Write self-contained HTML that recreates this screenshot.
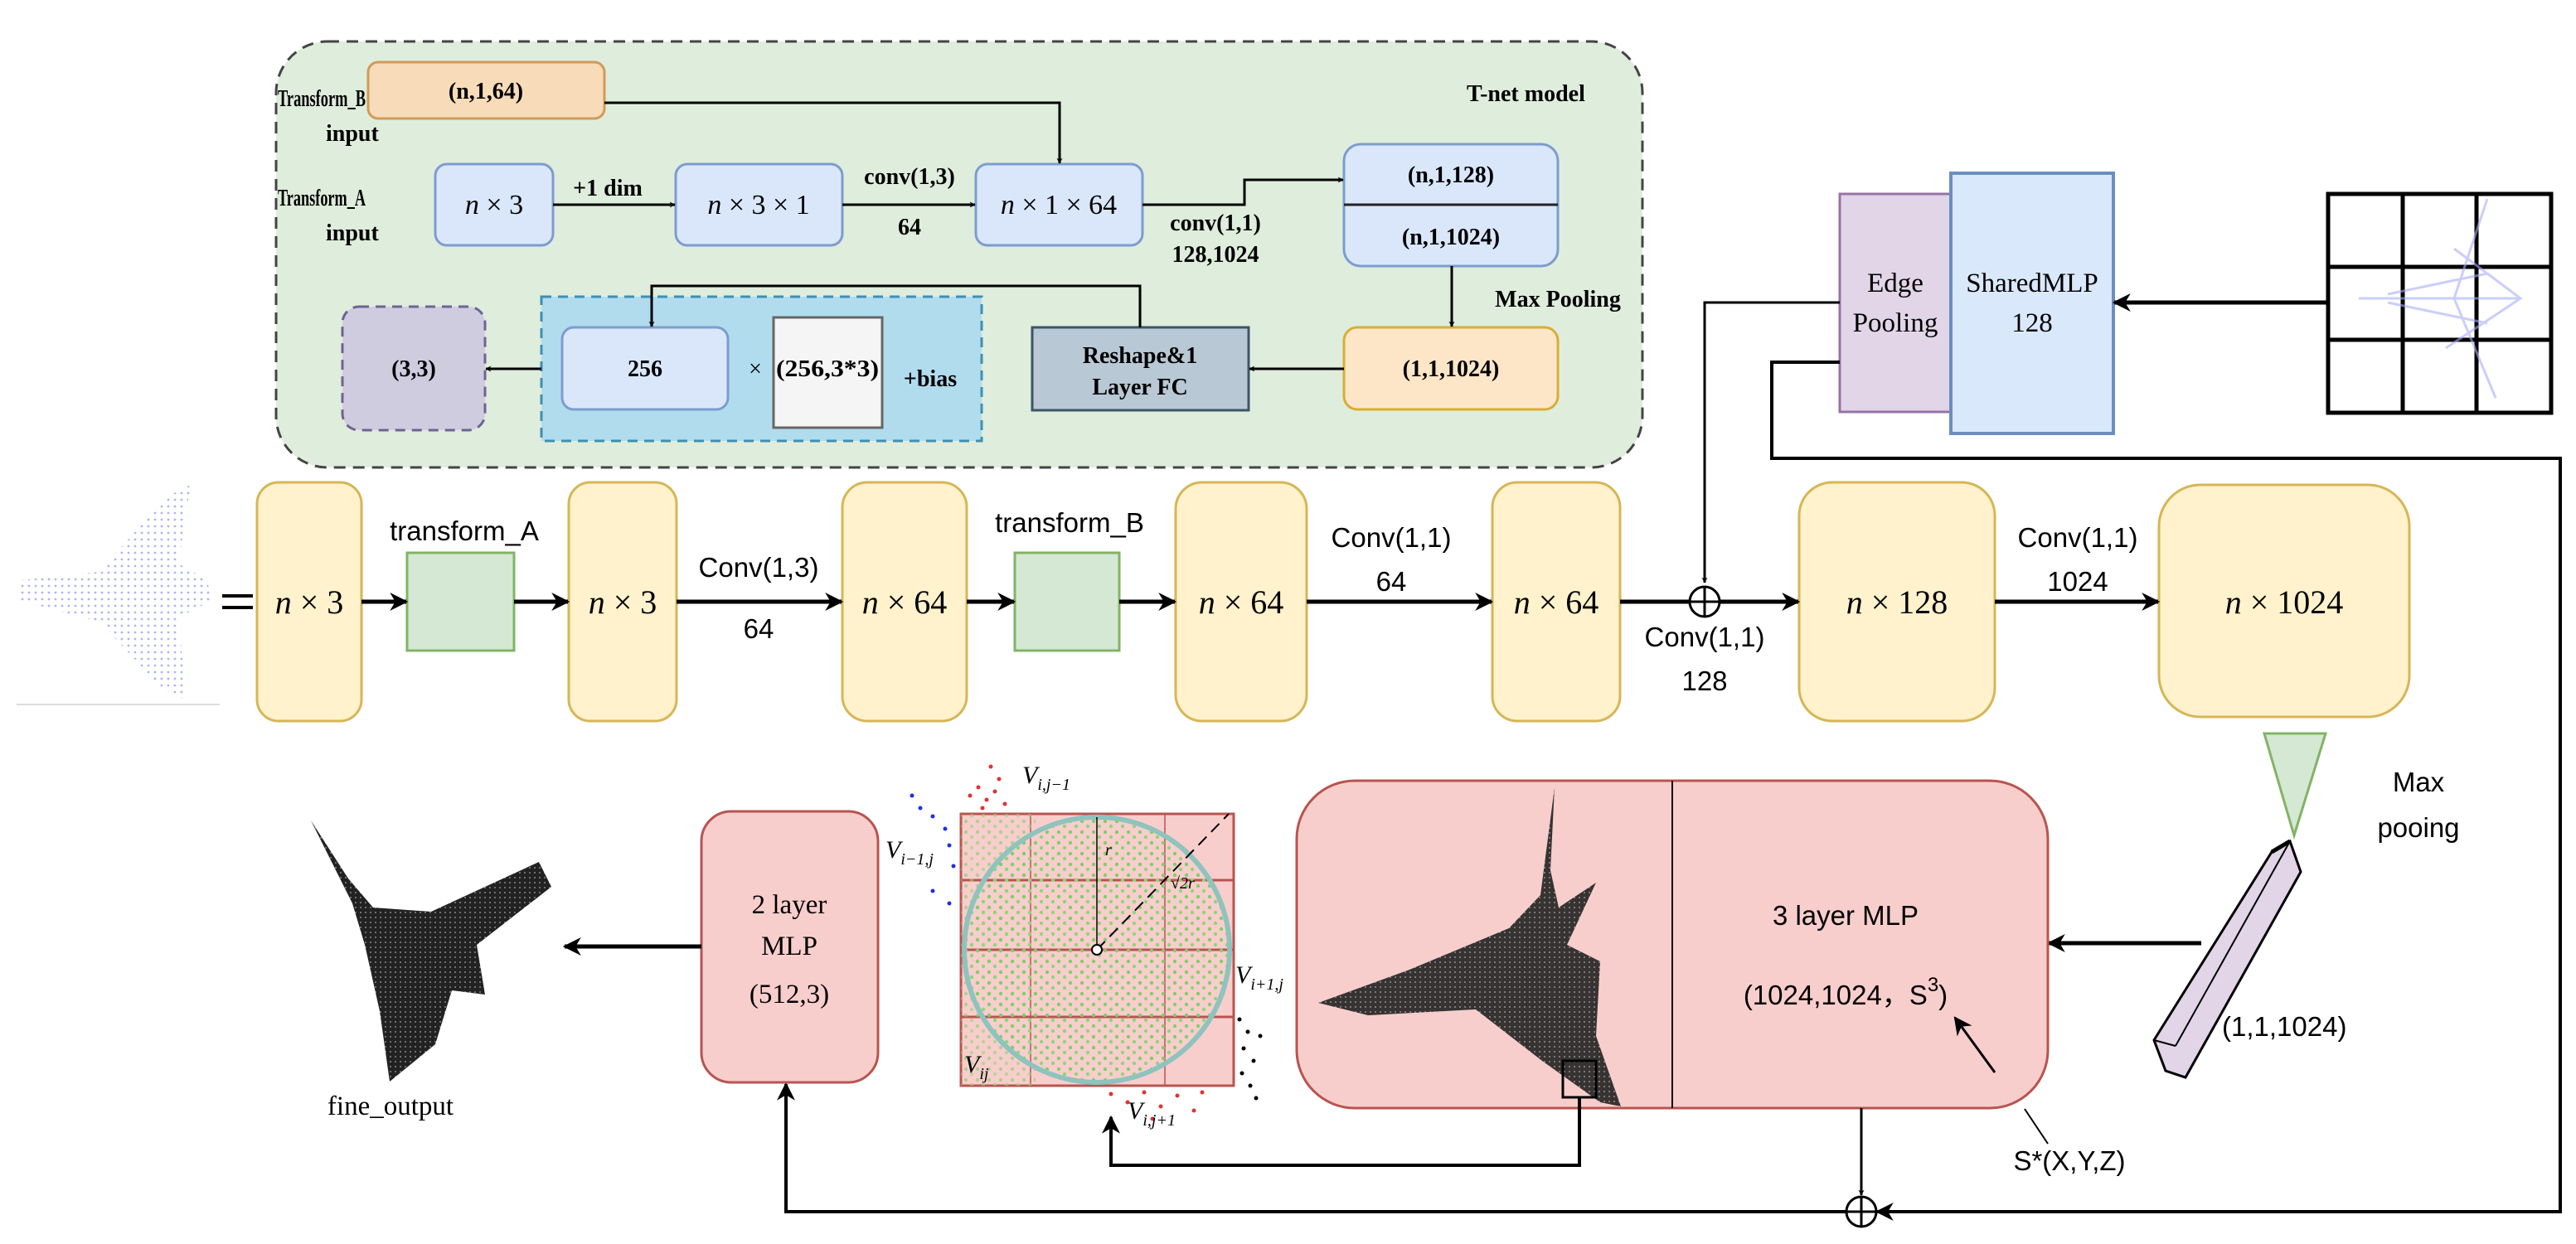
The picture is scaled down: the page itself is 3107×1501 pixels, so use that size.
<!DOCTYPE html>
<html><head><meta charset="utf-8"><style>
html,body{margin:0;padding:0;background:#fff;}
svg{display:block;}
.tn{font-family:"Liberation Serif",serif;font-weight:bold;font-size:28px;fill:#000;}
.mt{font-family:"Liberation Serif",serif;font-size:40px;fill:#000;}
.sl{font-family:"Liberation Sans",sans-serif;font-size:33px;fill:#000;}
.sr{font-family:"Liberation Serif",serif;font-size:33px;fill:#000;}
</style></head><body>
<svg width="3107" height="1501" viewBox="0 0 3107 1501" xmlns="http://www.w3.org/2000/svg">
<defs>
<marker id="a" viewBox="0 0 10 10" refX="9" refY="5" markerWidth="7" markerHeight="7" orient="auto-start-reverse" markerUnits="userSpaceOnUse"><path d="M0,0 L10,5 L0,10 L3,5 z" fill="#000"/></marker>
<marker id="b" viewBox="0 0 10 10" refX="9" refY="5" markerWidth="22" markerHeight="22" orient="auto-start-reverse" markerUnits="userSpaceOnUse"><path d="M0,0 L10,5 L0,10 L3,5 z" fill="#000"/></marker>
<pattern id="gd" width="14" height="13" patternUnits="userSpaceOnUse"><circle cx="3" cy="3" r="2.2" fill="#7fcf6a"/><circle cx="10" cy="9" r="2.2" fill="#8fd67a"/></pattern>
<pattern id="kd" width="6" height="6" patternUnits="userSpaceOnUse"><rect width="6" height="6" fill="#222"/><circle cx="3" cy="3" r="1" fill="#888"/></pattern>
<pattern id="bd" width="8" height="8" patternUnits="userSpaceOnUse"><circle cx="3" cy="3" r="1.4" fill="#9aa0f5"/></pattern>
<clipPath id="cc"><ellipse cx="1323" cy="1146" rx="160" ry="160"/></clipPath>
</defs>

<!-- T-net container -->
<rect x="333" y="50" width="1648" height="514" rx="62" fill="#dfeddc" stroke="#444" stroke-width="3" stroke-dasharray="14,9"/>
<text class="tn" x="1769" y="122" style="font-size:28px">T-net model</text>
<text class="tn" x="335" y="128" textLength="106" lengthAdjust="spacingAndGlyphs">Transform_B</text><text class="tn" x="393" y="170">input</text>
<text class="tn" x="335" y="248" textLength="106" lengthAdjust="spacingAndGlyphs">Transform_A</text><text class="tn" x="393" y="290">input</text>
<rect x="444" y="75" width="285" height="68" rx="12" fill="#f8dbb8" stroke="#d29a58" stroke-width="3"/>
<text class="tn" x="586" y="119" text-anchor="middle">(n,1,64)</text>
<rect x="525" y="198" width="142" height="98" rx="14" fill="#dae7fb" stroke="#7d9ccf" stroke-width="3"/>
<text class="tn" x="596" y="258" text-anchor="middle" style="font-weight:normal;font-size:34px"><tspan font-style="italic">n</tspan> × 3</text>
<rect x="815" y="198" width="201" height="98" rx="14" fill="#dae7fb" stroke="#7d9ccf" stroke-width="3"/>
<text class="tn" x="915" y="258" text-anchor="middle" style="font-weight:normal;font-size:34px"><tspan font-style="italic">n</tspan> × 3 × 1</text>
<rect x="1177" y="198" width="201" height="98" rx="14" fill="#dae7fb" stroke="#7d9ccf" stroke-width="3"/>
<text class="tn" x="1277" y="258" text-anchor="middle" style="font-weight:normal;font-size:34px"><tspan font-style="italic">n</tspan> × 1 × 64</text>
<rect x="1621" y="174" width="258" height="147" rx="20" fill="#dae7fb" stroke="#7d9ccf" stroke-width="3"/>
<line x1="1621" y1="247" x2="1879" y2="247" stroke="#222" stroke-width="3"/>
<text class="tn" x="1750" y="220" text-anchor="middle">(n,1,128)</text>
<text class="tn" x="1750" y="295" text-anchor="middle">(n,1,1024)</text>
<rect x="1621" y="395" width="258" height="99" rx="16" fill="#fde6c8" stroke="#d9ad35" stroke-width="3"/>
<text class="tn" x="1750" y="454" text-anchor="middle">(1,1,1024)</text>
<rect x="1245" y="395" width="261" height="100" fill="#b9c8d5" stroke="#3d5568" stroke-width="3"/>
<text class="tn" x="1375" y="438" text-anchor="middle">Reshape&amp;1</text>
<text class="tn" x="1375" y="476" text-anchor="middle">Layer FC</text>
<rect x="653" y="358" width="531" height="174" fill="#b1dcee" stroke="#3f8fb3" stroke-width="3" stroke-dasharray="12,8"/>
<rect x="678" y="395" width="200" height="99" rx="14" fill="#dae7fb" stroke="#7d9ccf" stroke-width="3"/>
<text class="tn" x="778" y="454" text-anchor="middle">256</text>
<text class="tn" x="911" y="454" text-anchor="middle" style="font-weight:normal">×</text>
<rect x="933" y="383" width="131" height="133" fill="#f5f5f5" stroke="#666" stroke-width="3"/>
<text class="tn" x="998" y="454" text-anchor="middle" textLength="124" lengthAdjust="spacingAndGlyphs">(256,3*3)</text>
<text class="tn" x="1122" y="466" text-anchor="middle">+bias</text>
<rect x="413" y="370" width="172" height="149" rx="20" fill="#d0cce0" stroke="#6f6394" stroke-width="3" stroke-dasharray="12,8"/>
<text class="tn" x="499" y="454" text-anchor="middle">(3,3)</text>
<!-- tnet arrows -->
<g stroke="#000" stroke-width="3" fill="none" marker-end="url(#a)">
<polyline points="729,124 1278,124 1278,197"/>
<line x1="667" y1="247" x2="814" y2="247"/>
<line x1="1016" y1="247" x2="1176" y2="247"/>
<polyline points="1378,247 1501,247 1501,217 1620,217"/>
<line x1="1751" y1="321" x2="1751" y2="394"/>
<line x1="1621" y1="445" x2="1507" y2="445"/>
<polyline points="1375,395 1375,345 786,345 786,394"/>
<line x1="653" y1="445" x2="586" y2="445"/>
</g>
<text class="tn" x="733" y="236" text-anchor="middle">+1 dim</text>
<text class="tn" x="1097" y="222" text-anchor="middle">conv(1,3)</text>
<text class="tn" x="1097" y="283" text-anchor="middle">64</text>
<text class="tn" x="1466" y="278" text-anchor="middle">conv(1,1)</text>
<text class="tn" x="1466" y="316" text-anchor="middle">128,1024</text>
<text class="tn" x="1879" y="370" text-anchor="middle">Max Pooling</text>

<!-- top right -->
<rect x="2219" y="234" width="134" height="263" fill="#e1d5e7" stroke="#9673a6" stroke-width="3"/>
<rect x="2353" y="209" width="196" height="314" fill="#dae8fc" stroke="#6c8ebf" stroke-width="4"/>
<text class="sr" x="2286" y="352" text-anchor="middle">Edge</text>
<text class="sr" x="2286" y="400" text-anchor="middle">Pooling</text>
<text class="sr" x="2451" y="352" text-anchor="middle">SharedMLP</text>
<text class="sr" x="2451" y="400" text-anchor="middle">128</text>
<g stroke="#000" stroke-width="5" fill="none">
<rect x="2808" y="234" width="269" height="264"/>
<line x1="2808" y1="322" x2="3077" y2="322"/><line x1="2808" y1="410" x2="3077" y2="410"/>
<line x1="2898" y1="234" x2="2898" y2="498"/><line x1="2987" y1="234" x2="2987" y2="498"/>
</g>
<g stroke="#a8aef8" stroke-width="3" fill="none" opacity="0.6">
<path d="M2845,360 L3040,360 M2960,300 L3040,360 L2950,420 M2880,355 L3000,330 M2880,365 L3000,390 M3000,240 L2960,360 L3010,480"/>
</g>
<line x1="2808" y1="365" x2="2550" y2="365" stroke="#000" stroke-width="5" marker-end="url(#b)"/>
<polyline points="2219,365 2056,365 2056,703" stroke="#000" stroke-width="3" fill="none" marker-end="url(#a)"/>
<polyline points="2219,437 2137,437 2137,553 3088,553 3088,1462 2264,1462" stroke="#000" stroke-width="4" fill="none" marker-end="url(#b)"/>

<!-- input plane -->
<g opacity="0.8">
<path d="M25,700 L120,690 L200,600 L230,585 L215,680 L250,700 L255,725 L215,745 L225,845 L195,830 L120,750 L25,725 Z" fill="url(#bd)"/>
</g>
<line x1="20" y1="850" x2="265" y2="850" stroke="#ddd" stroke-width="2"/>
<line x1="268" y1="719" x2="305" y2="719" stroke="#000" stroke-width="4"/>
<line x1="268" y1="733" x2="305" y2="733" stroke="#000" stroke-width="4"/>

<!-- main row -->
<g fill="#fff2cc" stroke="#d6b656" stroke-width="3">
<rect x="310" y="582" width="126" height="288" rx="26"/>
<rect x="686" y="582" width="130" height="288" rx="26"/>
<rect x="1016" y="582" width="150" height="288" rx="30"/>
<rect x="1418" y="582" width="158" height="288" rx="32"/>
<rect x="1800" y="582" width="154" height="288" rx="30"/>
<rect x="2170" y="582" width="236" height="288" rx="40"/>
<rect x="2604" y="585" width="302" height="280" rx="50"/>
</g>
<g fill="#d5e8d4" stroke="#82b366" stroke-width="3">
<rect x="491" y="667" width="129" height="118"/>
<rect x="1224" y="667" width="126" height="118"/>
</g>
<g class="mt" text-anchor="middle">
<text class="mt" x="373" y="740"><tspan font-style="italic">n</tspan> × 3</text>
<text class="mt" x="751" y="740"><tspan font-style="italic">n</tspan> × 3</text>
<text class="mt" x="1091" y="740"><tspan font-style="italic">n</tspan> × 64</text>
<text class="mt" x="1497" y="740"><tspan font-style="italic">n</tspan> × 64</text>
<text class="mt" x="1877" y="740"><tspan font-style="italic">n</tspan> × 64</text>
<text class="mt" x="2288" y="740"><tspan font-style="italic">n</tspan> × 128</text>
<text class="mt" x="2755" y="740"><tspan font-style="italic">n</tspan> × 1024</text>
</g>
<g stroke="#000" stroke-width="5" marker-end="url(#b)">
<line x1="436" y1="726" x2="490" y2="726"/>
<line x1="620" y1="726" x2="685" y2="726"/>
<line x1="816" y1="726" x2="1015" y2="726"/>
<line x1="1166" y1="726" x2="1223" y2="726"/>
<line x1="1350" y1="726" x2="1417" y2="726"/>
<line x1="1576" y1="726" x2="1799" y2="726"/>
<line x1="2074" y1="726" x2="2169" y2="726"/>
<line x1="2406" y1="726" x2="2603" y2="726"/>
</g>
<line x1="1954" y1="726" x2="2038" y2="726" stroke="#000" stroke-width="5"/>
<circle cx="2056" cy="726" r="18" fill="#fff" stroke="#000" stroke-width="3"/>
<line x1="2038" y1="726" x2="2074" y2="726" stroke="#000" stroke-width="3"/>
<line x1="2056" y1="708" x2="2056" y2="744" stroke="#000" stroke-width="3"/>
<text class="sl" x="560" y="652" text-anchor="middle">transform_A</text>
<text class="sl" x="915" y="696" text-anchor="middle">Conv(1,3)</text>
<text class="sl" x="915" y="770" text-anchor="middle">64</text>
<text class="sl" x="1290" y="642" text-anchor="middle">transform_B</text>
<text class="sl" x="1678" y="660" text-anchor="middle">Conv(1,1)</text>
<text class="sl" x="1678" y="713" text-anchor="middle">64</text>
<text class="sl" x="2056" y="780" text-anchor="middle">Conv(1,1)</text>
<text class="sl" x="2056" y="833" text-anchor="middle">128</text>
<text class="sl" x="2506" y="660" text-anchor="middle">Conv(1,1)</text>
<text class="sl" x="2506" y="713" text-anchor="middle">1024</text>

<!-- max pooling -->
<polygon points="2731,885 2805,885 2767,1008" fill="#d5e8d4" stroke="#82b366" stroke-width="3"/>
<text class="sl" x="2917" y="955" text-anchor="middle">Max</text>
<text class="sl" x="2917" y="1010" text-anchor="middle">pooing</text>
<polygon points="2740,1028 2762,1015 2775,1052 2636,1300 2612,1292 2598,1255" fill="#e1d5e7" stroke="#000" stroke-width="3"/>
<line x1="2762" y1="1015" x2="2624" y2="1262" stroke="#000" stroke-width="2"/>
<line x1="2598" y1="1255" x2="2624" y2="1262" stroke="#000" stroke-width="2"/>
<line x1="2740" y1="1028" x2="2762" y2="1015" stroke="#000" stroke-width="5"/>
<text class="sl" x="2680" y="1250">(1,1,1024)</text>
<line x1="2655" y1="1138" x2="2471" y2="1138" stroke="#000" stroke-width="5" marker-end="url(#b)"/>

<!-- 3 layer MLP -->
<rect x="1564" y="942" width="906" height="395" rx="70" fill="#f8cecc" stroke="#b85450" stroke-width="3"/>
<line x1="2017" y1="942" x2="2017" y2="1337" stroke="#000" stroke-width="2"/>
<path d="M1875,950 L1858,1080 L1820,1120 L1700,1170 L1590,1210 L1650,1225 L1780,1218 L1860,1280 L1930,1330 L1955,1335 L1925,1250 L1930,1160 L1890,1140 L1925,1065 L1880,1095 L1870,1050 Z" fill="url(#kd)" opacity="0.9"/>
<rect x="1885" y="1280" width="40" height="44" fill="none" stroke="#000" stroke-width="3"/>
<text class="sl" x="2226" y="1116" text-anchor="middle">3 layer MLP</text>
<text class="sl" x="2226" y="1212" text-anchor="middle">(1024,1024，S<tspan dy="-16" font-size="24">3</tspan><tspan dy="16">)</tspan></text>
<line x1="2406" y1="1294" x2="2358" y2="1228" stroke="#000" stroke-width="3" marker-end="url(#b)"/>
<line x1="2442" y1="1338" x2="2470" y2="1380" stroke="#000" stroke-width="2"/>
<text class="sl" x="2496" y="1412" text-anchor="middle">S*(X,Y,Z)</text>
<line x1="2245" y1="1337" x2="2245" y2="1442" stroke="#000" stroke-width="3" marker-end="url(#a)"/>
<circle cx="2245" cy="1462" r="18" fill="#fff" stroke="#000" stroke-width="3"/>
<line x1="2227" y1="1462" x2="2263" y2="1462" stroke="#000" stroke-width="3"/>
<line x1="2245" y1="1444" x2="2245" y2="1480" stroke="#000" stroke-width="3"/>
<polyline points="2227,1462 948,1462 948,1308" stroke="#000" stroke-width="4" fill="none" marker-end="url(#b)"/>
<polyline points="1905,1324 1905,1406 1340,1406 1340,1348" stroke="#000" stroke-width="4" fill="none" marker-end="url(#b)"/>

<!-- 2 layer MLP -->
<rect x="846" y="979" width="213" height="327" rx="36" fill="#f8cecc" stroke="#b85450" stroke-width="3"/>
<text class="sr" x="952" y="1102" text-anchor="middle">2 layer</text>
<text class="sr" x="952" y="1152" text-anchor="middle">MLP</text>
<text class="sr" x="952" y="1210" text-anchor="middle">(512,3)</text>
<line x1="846" y1="1142" x2="681" y2="1142" stroke="#000" stroke-width="5" marker-end="url(#b)"/>

<!-- fine output -->
<path d="M375,990 L420,1060 L450,1095 L520,1100 L650,1040 L665,1070 L575,1140 L585,1200 L545,1195 L525,1260 L470,1305 L458,1220 L440,1140 L425,1090 Z" fill="url(#kd)"/>
<text class="sr" x="471" y="1345" text-anchor="middle">fine_output</text>

<!-- grid Vij -->
<rect x="1159" y="982" width="329" height="328" fill="#f8cecc" stroke="#b85450" stroke-width="3"/>
<g stroke="#b85450" stroke-width="3">
<line x1="1159" y1="1062" x2="1488" y2="1062"/><line x1="1159" y1="1146" x2="1488" y2="1146"/><line x1="1159" y1="1227" x2="1488" y2="1227"/>
</g>
<g stroke="#b85450" stroke-width="1.5">
<line x1="1243" y1="982" x2="1243" y2="1310"/><line x1="1405" y1="982" x2="1405" y2="1310"/>
</g>
<rect x="1159" y="982" width="329" height="328" fill="url(#gd)" clip-path="url(#cc)"/>
<rect x="1159" y="982" width="90" height="328" fill="url(#gd)" opacity="0.6"/>
<circle cx="1323" cy="1146" r="160" fill="none" stroke="#8fc3bd" stroke-width="6"/>
<line x1="1323" y1="1146" x2="1323" y2="986" stroke="#000" stroke-width="1.5"/>
<line x1="1323" y1="1146" x2="1482" y2="982" stroke="#000" stroke-width="2" stroke-dasharray="14,8"/>
<circle cx="1323" cy="1146" r="6" fill="#fff" stroke="#000" stroke-width="2"/>
<g fill="#e53030"><circle cx="1170" cy="960" r="2.5"/><circle cx="1180" cy="950" r="2.5"/><circle cx="1190" cy="965" r="2.5"/><circle cx="1200" cy="955" r="2.5"/><circle cx="1205" cy="940" r="2.5"/><circle cx="1195" cy="925" r="2.5"/><circle cx="1212" cy="970" r="2.5"/><circle cx="1185" cy="975" r="2.5"/><circle cx="1340" cy="1320" r="2.5"/><circle cx="1360" cy="1330" r="2.5"/><circle cx="1380" cy="1318" r="2.5"/><circle cx="1400" cy="1335" r="2.5"/><circle cx="1420" cy="1322" r="2.5"/><circle cx="1440" cy="1340" r="2.5"/><circle cx="1390" cy="1350" r="2.5"/><circle cx="1450" cy="1318" r="2.5"/></g>
<g fill="#2030e0"><circle cx="1100" cy="960" r="2.5"/><circle cx="1110" cy="975" r="2.5"/><circle cx="1125" cy="985" r="2.5"/><circle cx="1140" cy="1000" r="2.5"/><circle cx="1145" cy="1020" r="2.5"/><circle cx="1125" cy="1075" r="2.5"/><circle cx="1145" cy="1090" r="2.5"/><circle cx="1150" cy="1045" r="2.5"/></g>
<g fill="#000"><circle cx="1495" cy="1230" r="2.5"/><circle cx="1505" cy="1245" r="2.5"/><circle cx="1500" cy="1265" r="2.5"/><circle cx="1512" cy="1280" r="2.5"/><circle cx="1498" cy="1295" r="2.5"/><circle cx="1508" cy="1310" r="2.5"/><circle cx="1520" cy="1250" r="2.5"/><circle cx="1515" cy="1325" r="2.5"/></g>
<g class="sr" font-style="italic" font-size="30">
<text x="1233" y="945" font-size="30">V<tspan font-size="20" dy="8">i,j−1</tspan></text>
<text x="1068" y="1035" font-size="30">V<tspan font-size="20" dy="8">i−1,j</tspan></text>
<text x="1333" y="1032" font-size="20">r</text>
<text x="1412" y="1072" font-size="20">√2r</text>
<text x="1490" y="1186" font-size="30">V<tspan font-size="20" dy="8">i+1,j</tspan></text>
<text x="1163" y="1294" font-size="30">V<tspan font-size="20" dy="8">ij</tspan></text>
<text x="1360" y="1350" font-size="30">V<tspan font-size="20" dy="8">i,j+1</tspan></text>
</g>
</svg>
</body></html>
